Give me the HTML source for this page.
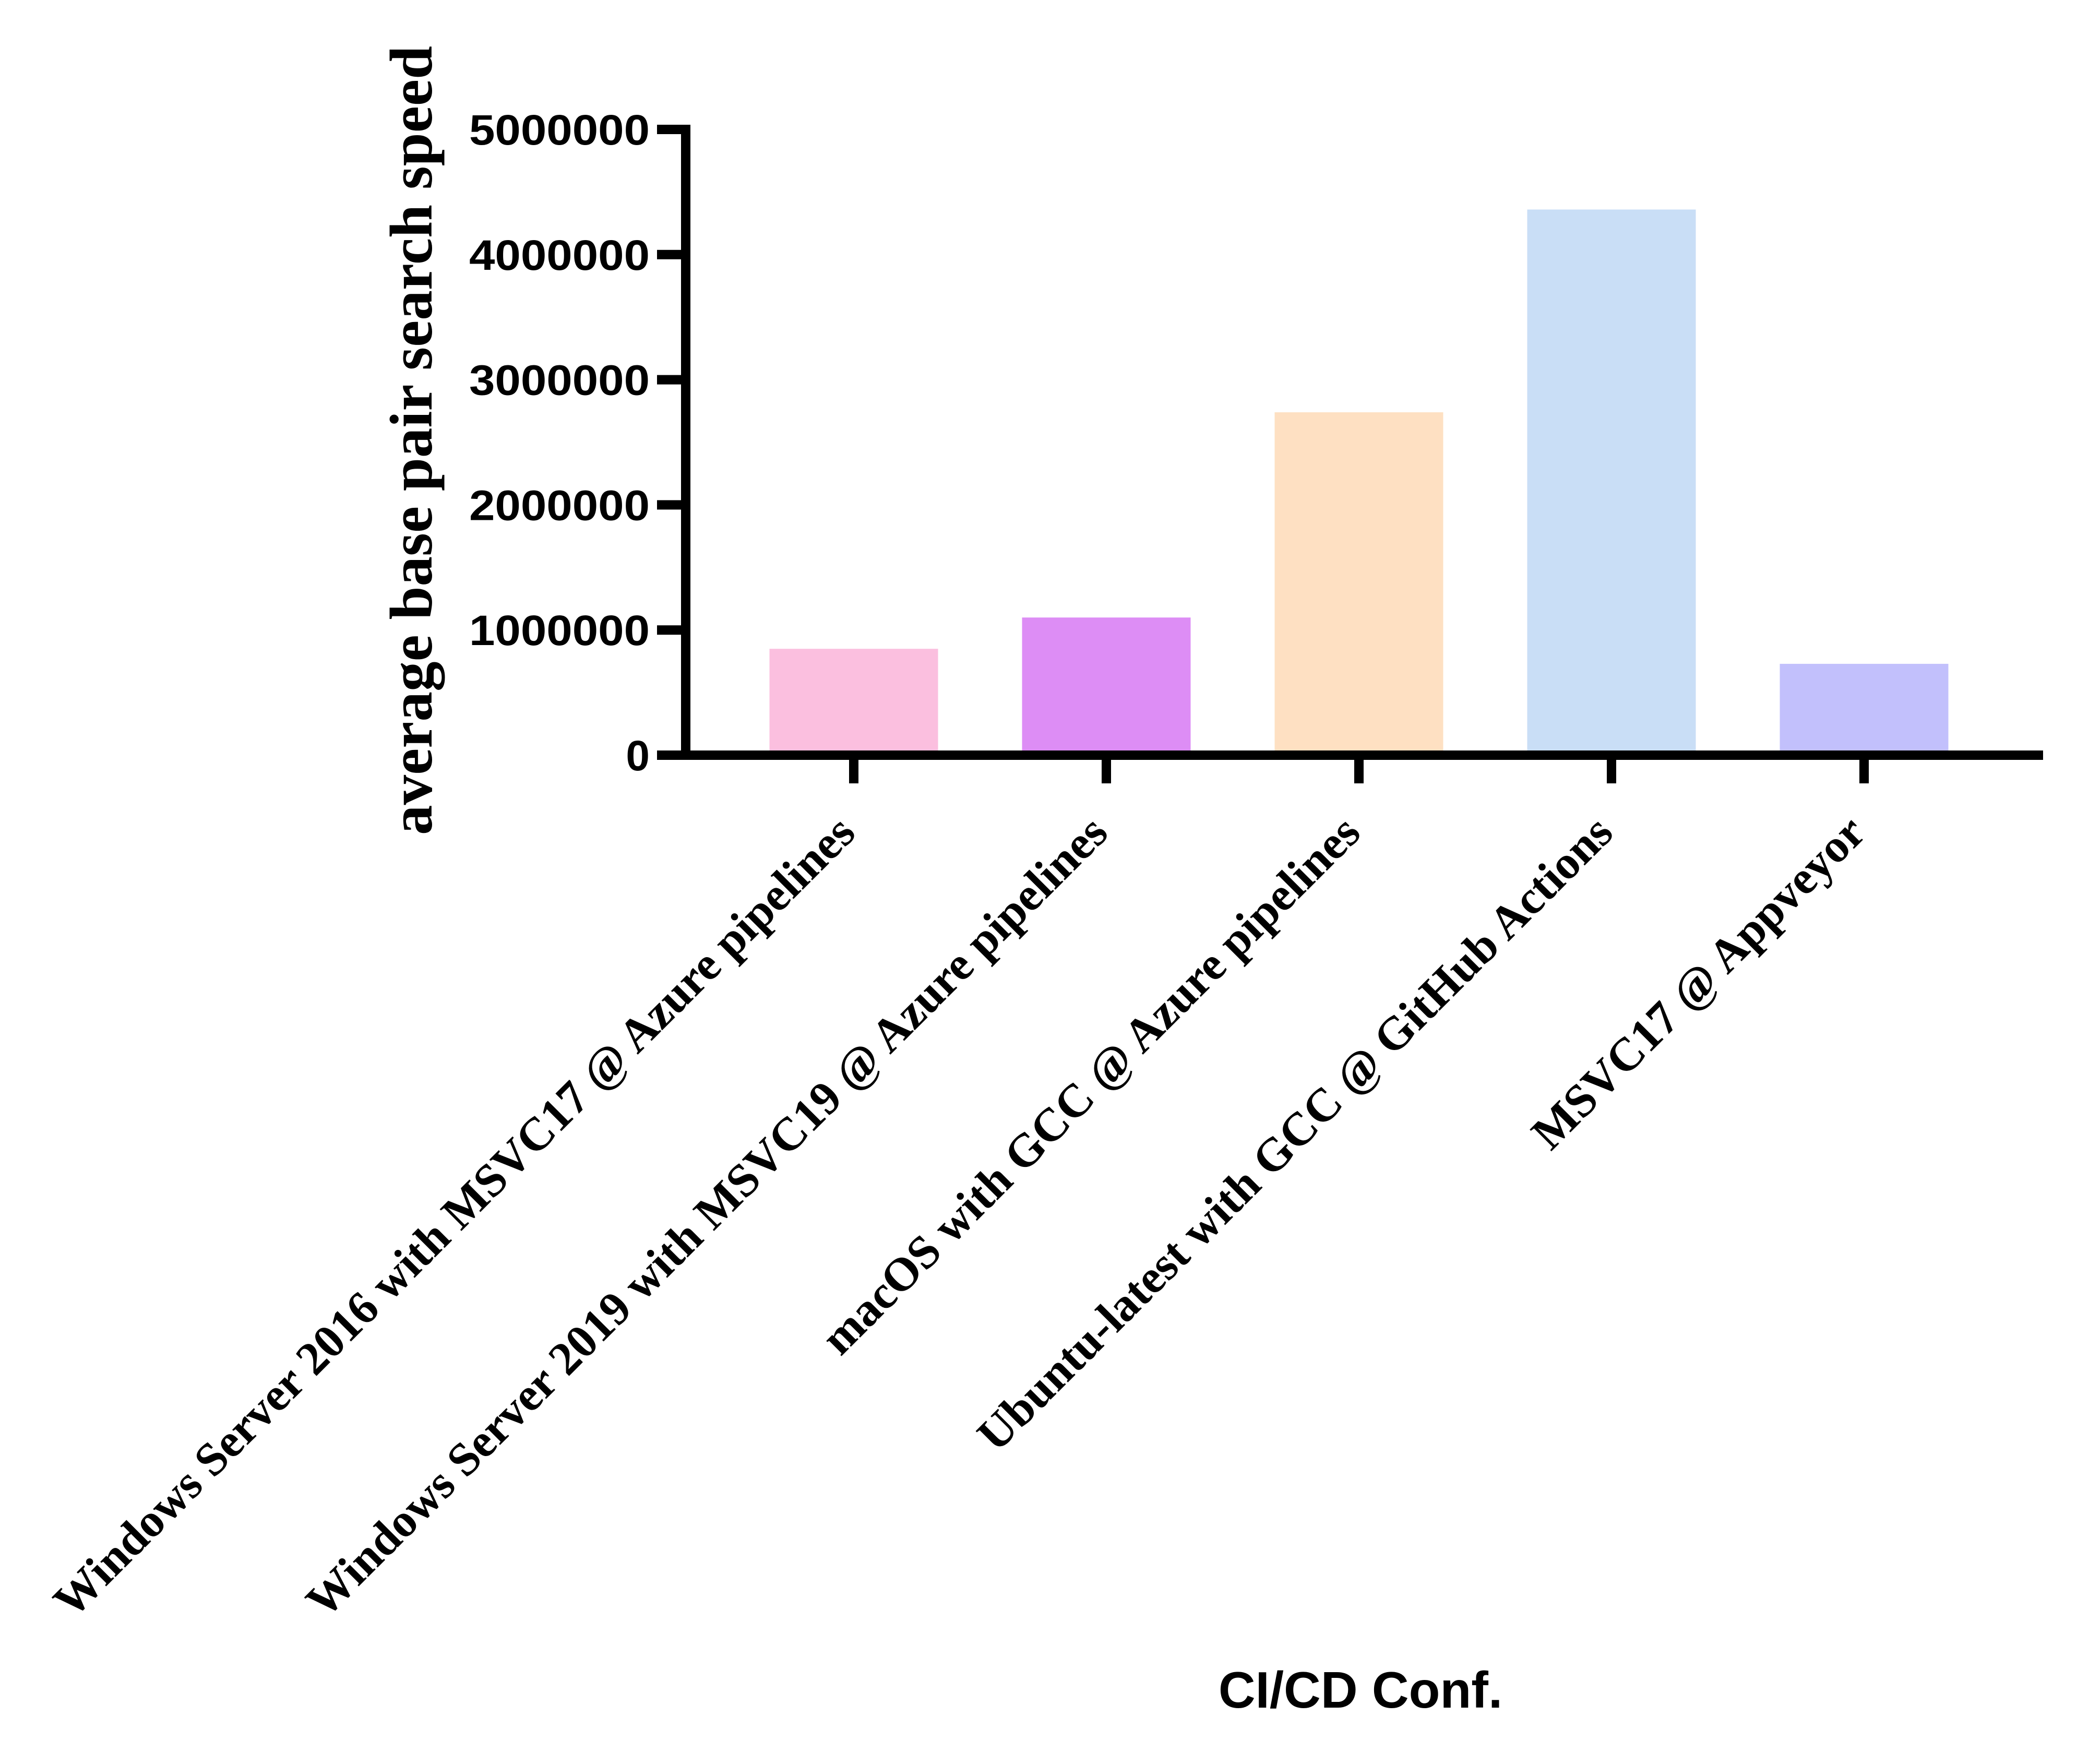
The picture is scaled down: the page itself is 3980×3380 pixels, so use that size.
<!DOCTYPE html>
<html><head><meta charset="utf-8"><style>
html,body{margin:0;padding:0;background:#fff;width:3980px;height:3380px;overflow:hidden}
svg{display:block}
</style></head><body>
<svg id="chart" width="3980" height="3380" viewBox="0 0 3980 3380" xmlns="http://www.w3.org/2000/svg">
<rect width="3980" height="3380" fill="#fff"/>
<g id="bars"></g>
<g id="yaxis"></g>
<g id="xaxis"></g>
<text transform="translate(827,844) rotate(-90)" text-anchor="middle" font-family="'Liberation Serif',serif" font-weight="bold" font-size="116" textLength="1512" lengthAdjust="spacingAndGlyphs">average base pair search speed</text>
<text x="2607" y="3272" text-anchor="middle" font-family="'Liberation Sans',sans-serif" font-weight="bold" font-size="98">CI/CD Conf.</text>
</svg>
<script>
const categories = ["Windows Server 2016 with MSVC17 @ Azure pipelines","Windows Server 2019 with MSVC19 @ Azure pipelines","macOS with GCC @ Azure pipelines","Ubuntu-latest with GCC @ GitHub Actions","MSVC17 @ Appveyor"];
const values = [850000, 1100000, 2740000, 4360000, 730000];
const barColors = ["#FBBFDF","#DD8DF5","#FEE0C2","#C9DEF6","#C2C0FC"];
const yTicks = [0, 1000000, 2000000, 3000000, 4000000, 5000000];
const yTickLabels = ["0","1000000","2000000","3000000","4000000","5000000"];

const NS = "http://www.w3.org/2000/svg";
const y0 = 1447, yTop = 248, yMax = 5000000;
function yScale(v){ return y0 - (v / yMax) * (y0 - yTop); }
const xStart = 1152, step = 484, barW = 323;
function xScale(i){ return xStart + step * (i + 1); }
function mk(tag, attrs, parent){ const e = document.createElementNS(NS, tag); for (const k in attrs) e.setAttribute(k, attrs[k]); parent.appendChild(e); return e; }

const gb = document.getElementById('bars');
values.forEach((v, i) => {
  const cx = xScale(i), top = yScale(v);
  const r = mk('rect', {x: cx - barW/2, y: top, width: barW, height: y0 - 9 - top, fill: barColors[i]}, gb);
  
  
});

const gy = document.getElementById('yaxis');
const yl = mk('rect', {x: 1305, y: 239, width: 18, height: y0 + 9 - 239, fill: '#000'}, gy);


yTicks.forEach((t, i) => {
  const yy = yScale(t);
  const tk = mk('rect', {x: 1259, y: yy - 9, width: 50, height: 18, fill: '#000'}, gy);
  
  
  const lab = yTickLabels[i];
  const tx = mk('text', {x: 1245, y: yy + 29, 'text-anchor': 'end', 'font-family': "'Liberation Sans',sans-serif", 'font-weight': 'bold', 'font-size': 82}, gy);
  if (lab.length > 1) { tx.setAttribute('textLength', 50 * lab.length - 4); tx.setAttribute('lengthAdjust', 'spacingAndGlyphs'); }
  tx.textContent = lab;
  
  
});

const gx = document.getElementById('xaxis');
const xl = mk('rect', {x: 1305, y: y0 - 9, width: 3915 - 1305, height: 18, fill: '#000'}, gx);


categories.forEach((c, i) => {
  const cx = xScale(i);
  const tk = mk('rect', {x: cx - 9, y: y0, width: 18, height: 1501 - y0, fill: '#000'}, gx);
  
  
  const px = cx + 7, py = 1600;
  const tx = mk('text', {x: px, y: py, transform: 'rotate(-45 ' + px + ' ' + py + ')', 'text-anchor': 'end', 'font-family': "'Liberation Serif',serif", 'font-weight': 'bold', 'font-size': 90}, gx);
  tx.textContent = c;
  
  
});
</script>
</body></html>
